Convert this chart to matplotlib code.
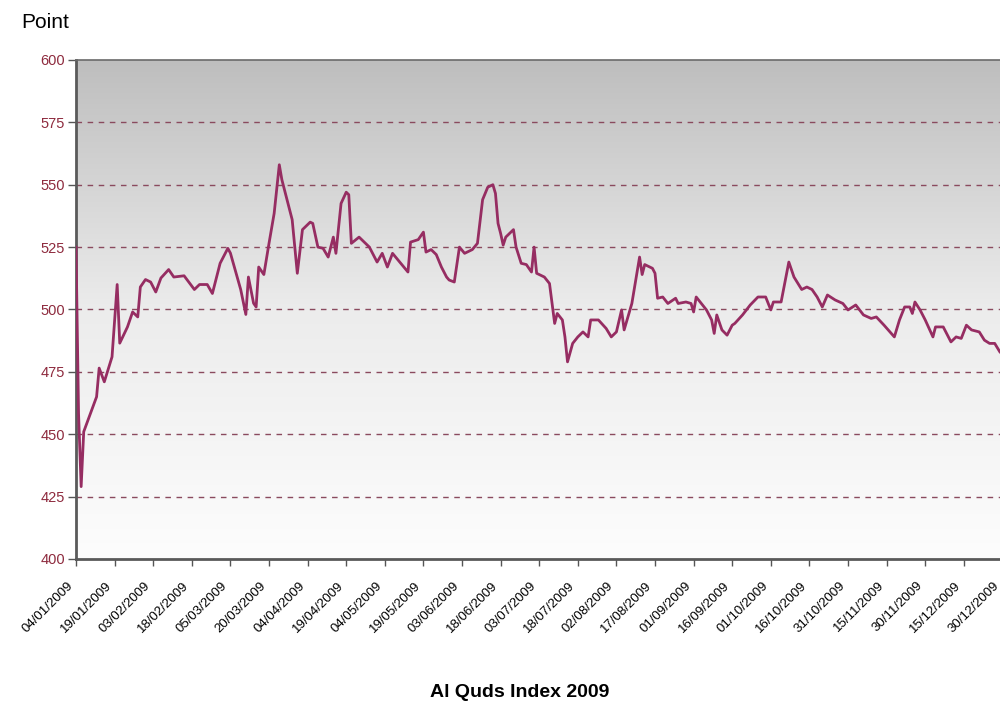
import numpy as np
import pandas as pd
import matplotlib
matplotlib.use('Agg')
import matplotlib.pyplot as plt
import matplotlib.dates as mdates
import matplotlib.transforms as mtransforms
from matplotlib.colors import LinearSegmentedColormap

# Al Quds Index 2009
dates = [
    '2009-01-04', '2009-01-05', '2009-01-06', '2009-01-07', '2009-01-12', '2009-01-13',
    '2009-01-15', '2009-01-18', '2009-01-20', '2009-01-21', '2009-01-24', '2009-01-26',
    '2009-01-28', '2009-01-29', '2009-01-31', '2009-02-02', '2009-02-04', '2009-02-06',
    '2009-02-09', '2009-02-11', '2009-02-15', '2009-02-19', '2009-02-21', '2009-02-24',
    '2009-02-26', '2009-03-01', '2009-03-04', '2009-03-05', '2009-03-09', '2009-03-11',
    '2009-03-12', '2009-03-14', '2009-03-15', '2009-03-16', '2009-03-18', '2009-03-20',
    '2009-03-22', '2009-03-24', '2009-03-25', '2009-03-26', '2009-03-29', '2009-03-31',
    '2009-04-02', '2009-04-05', '2009-04-06', '2009-04-08', '2009-04-10', '2009-04-12',
    '2009-04-14', '2009-04-15', '2009-04-17', '2009-04-19', '2009-04-20', '2009-04-21',
    '2009-04-24', '2009-04-26', '2009-04-28', '2009-05-01', '2009-05-03', '2009-05-05',
    '2009-05-07', '2009-05-09', '2009-05-13', '2009-05-14', '2009-05-17', '2009-05-19',
    '2009-05-20', '2009-05-22', '2009-05-24', '2009-05-26', '2009-05-28', '2009-05-29',
    '2009-05-31', '2009-06-02', '2009-06-04', '2009-06-07', '2009-06-09', '2009-06-11',
    '2009-06-13', '2009-06-15', '2009-06-16', '2009-06-17', '2009-06-18', '2009-06-19',
    '2009-06-20', '2009-06-23', '2009-06-24', '2009-06-26', '2009-06-28', '2009-06-30',
    '2009-07-01', '2009-07-02', '2009-07-05', '2009-07-07', '2009-07-09', '2009-07-10',
    '2009-07-12', '2009-07-13', '2009-07-14', '2009-07-16', '2009-07-18', '2009-07-20',
    '2009-07-22', '2009-07-23', '2009-07-26', '2009-07-29', '2009-07-31', '2009-08-02',
    '2009-08-04', '2009-08-05', '2009-08-08', '2009-08-11', '2009-08-12', '2009-08-13',
    '2009-08-16', '2009-08-17', '2009-08-18', '2009-08-20', '2009-08-22', '2009-08-25',
    '2009-08-26', '2009-08-29', '2009-08-31', '2009-09-01', '2009-09-02', '2009-09-04',
    '2009-09-06', '2009-09-08', '2009-09-09', '2009-09-10', '2009-09-12', '2009-09-14',
    '2009-09-16', '2009-09-17', '2009-09-20', '2009-09-23', '2009-09-26', '2009-09-29',
    '2009-10-01', '2009-10-02', '2009-10-05', '2009-10-08', '2009-10-10', '2009-10-13',
    '2009-10-15', '2009-10-17', '2009-10-19', '2009-10-21', '2009-10-23', '2009-10-26',
    '2009-10-29', '2009-10-31', '2009-11-03', '2009-11-06', '2009-11-09', '2009-11-11',
    '2009-11-14', '2009-11-18', '2009-11-20', '2009-11-22', '2009-11-24', '2009-11-25',
    '2009-11-26', '2009-11-28', '2009-11-30', '2009-12-03', '2009-12-04', '2009-12-07',
    '2009-12-09', '2009-12-10', '2009-12-12', '2009-12-14', '2009-12-16', '2009-12-18',
    '2009-12-21', '2009-12-23', '2009-12-25', '2009-12-27', '2009-12-29', '2009-12-30',
]
values = [
    525, 458, 429, 451, 465, 476.5,
    471, 481, 510, 486.5, 493, 499,
    497, 509, 512, 511, 507, 512.6,
    516, 513, 513.5, 508, 510, 510,
    506.4, 518.5, 524.5, 522.6, 508, 498,
    513, 502.5, 501, 517, 514, 526.5,
    538.5, 558, 552, 548, 536, 514.5,
    532, 535, 534.5, 525, 524.5, 521,
    529, 522.5, 542.5, 547, 546, 526.5,
    529, 527, 525, 519, 522.5, 517,
    522.5, 520, 515, 527, 528, 531,
    523, 524, 522, 517, 513, 511.8,
    511, 525, 522.5, 524, 526.5, 544,
    549, 550, 546.5, 534.5, 530.5, 525.8,
    529, 532, 525, 518.5, 518, 515,
    525, 514.5, 513, 510.4, 494.4, 498.4,
    495.8, 489, 479, 486.4, 489, 491,
    489, 495.8, 495.8, 492.4, 489, 491,
    499.8, 491.8, 502.4, 521, 514, 518,
    516.5, 514.5, 504.5, 505, 502.4, 504.5,
    502.4, 503, 502.4, 499, 505, 502.4,
    499.8, 495.8, 490.4, 497.8, 491.8, 489.7,
    493.7, 494.4, 497.8, 501.8, 505, 505,
    499.8, 503, 503, 519, 513, 508,
    509, 508, 505, 501, 505.8, 503.8,
    502.4, 499.8, 501.8, 497.8, 496.4, 497,
    493.7, 489, 495.8, 501, 501, 498.4,
    503, 499.8, 495.8, 489, 493, 493,
    489, 487, 489, 488.4, 493.7, 491.8,
    491, 487.7, 486.4, 486.4, 483, 482,
]
y_ticks = [400, 425, 450, 475, 500, 525, 550, 575, 600]
x_ticks = pd.date_range('2009-01-04', '2009-12-30', freq='15D')

plt.rcParams['font.family'] = ['Liberation Sans', 'DejaVu Sans']

fig = plt.figure(figsize=(10, 7.08), dpi=100)
fig.patch.set_facecolor('white')
# plot area runs a little past the right edge of the picture (cropped)
ax = fig.add_axes([0.076, 0.2105, 0.929, 0.7048])

# grey-to-white background
bg = LinearSegmentedColormap.from_list('bg', ['#fdfdfd', '#ececec', '#bebebe'])
grad = np.linspace(0, 1, 256).reshape(-1, 1)
ax.imshow(grad, extent=[0, 1, 0, 1], transform=ax.transAxes, cmap=bg,
          origin='lower', aspect='auto', zorder=0)

for y in y_ticks[1:-1]:
    ax.axhline(y, color='#8a4a5e', lw=1.0, ls=(0, (4, 4)), zorder=1)

ax.plot(pd.to_datetime(dates), values, color='#962d62', lw=2.0, zorder=3,
        solid_joinstyle='round')

ax.set_xlim(pd.Timestamp('2009-01-04'), pd.Timestamp('2009-12-31'))
ax.set_ylim(400, 600)
ax.set_yticks(y_ticks)
ax.set_xticks(x_ticks)
ax.xaxis.set_major_formatter(mdates.DateFormatter('%d/%m/%Y'))

ax.tick_params(axis='x', labelsize=9.5, length=5, width=1, color='#555555', pad=4)
ax.tick_params(axis='y', labelsize=10.5, length=6, width=1, color='#555555',
               labelcolor='#8e2b3e', pad=2)

# date labels sit slightly left of and below their ticks
shift = mtransforms.ScaledTranslation(-9 / 100, -8 / 100, fig.dpi_scale_trans)
for lab in ax.get_xticklabels():
    lab.set_rotation(45)
    lab.set_ha('right')
    lab.set_rotation_mode('anchor')
    lab.set_transform(lab.get_transform() + shift)

for side in ['left', 'bottom']:
    ax.spines[side].set_color('#5a5a5a')
    ax.spines[side].set_linewidth(2)
ax.spines['top'].set_color('#6a6a6a')
ax.spines['top'].set_linewidth(1.2)
ax.spines['right'].set_visible(False)

fig.text(0.021, 0.982, 'Point', fontsize=15, ha='left', va='top')
fig.text(0.52, 0.022, 'Al Quds Index 2009', fontsize=14, fontweight='bold',
         ha='center', va='center')

fig.savefig('out.png', dpi=100)
